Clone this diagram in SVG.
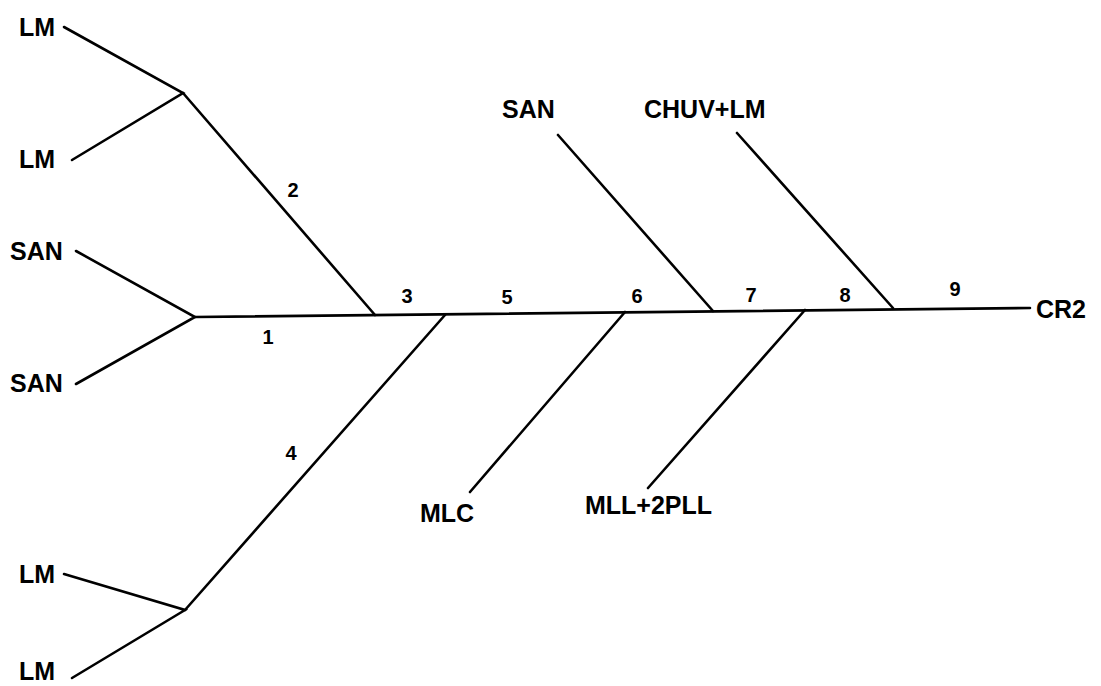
<svg xmlns="http://www.w3.org/2000/svg" width="1101" height="686" viewBox="0 0 1101 686">
<style>
.l{stroke:#000;stroke-width:2.6;fill:none;stroke-linecap:round}
.t{font-family:"Liberation Sans",Arial,sans-serif;font-weight:bold;font-size:25px;fill:#000}
.n{font-family:"Liberation Sans",Arial,sans-serif;font-weight:bold;font-size:20px;fill:#000;text-anchor:middle}
</style>
<rect width="1101" height="686" fill="#fff"/>
<g id="connectors">
<path class="l" d="M64,27 L183,93 L72,160"/>
<path class="l" d="M183,93 L375,315"/>
<path class="l" d="M76,251 L195,317 L76,384"/>
<path class="l" d="M195,317 L1030,308"/>
<path class="l" d="M64,574 L185,610 L72,678"/>
<path class="l" d="M185,610 L445,315"/>
<path class="l" d="M625,312 L470,492"/>
<path class="l" d="M558,135 L713,311"/>
<path class="l" d="M805,310 L648,488"/>
<path class="l" d="M737,133 L893,308"/>
</g>
<g id="labels">
<text class="n" x="268" y="344">1</text>
<text class="n" x="293" y="197">2</text>
<text class="n" x="407" y="303">3</text>
<text class="n" x="291" y="460">4</text>
<text class="n" x="507" y="304">5</text>
<text class="n" x="637" y="303">6</text>
<text class="n" x="751" y="302">7</text>
<text class="n" x="845" y="302">8</text>
<text class="n" x="955" y="296">9</text>
</g>
<g id="n-lm1"><text class="t" x="19" y="36">LM</text></g>
<g id="n-lm2"><text class="t" x="19" y="168">LM</text></g>
<g id="n-san1"><text class="t" x="10" y="260">SAN</text></g>
<g id="n-san2"><text class="t" x="10" y="392">SAN</text></g>
<g id="n-lm3"><text class="t" x="19" y="583">LM</text></g>
<g id="n-lm4"><text class="t" x="19" y="680">LM</text></g>
<g id="n-san3"><text class="t" x="502" y="118">SAN</text></g>
<g id="n-chuv"><text class="t" x="644" y="118">CHUV+LM</text></g>
<g id="n-mlc"><text class="t" x="420" y="522">MLC</text></g>
<g id="n-mll"><text class="t" x="585" y="514">MLL+2PLL</text></g>
<g id="n-cr2"><text class="t" x="1036" y="318">CR2</text></g>
</svg>
